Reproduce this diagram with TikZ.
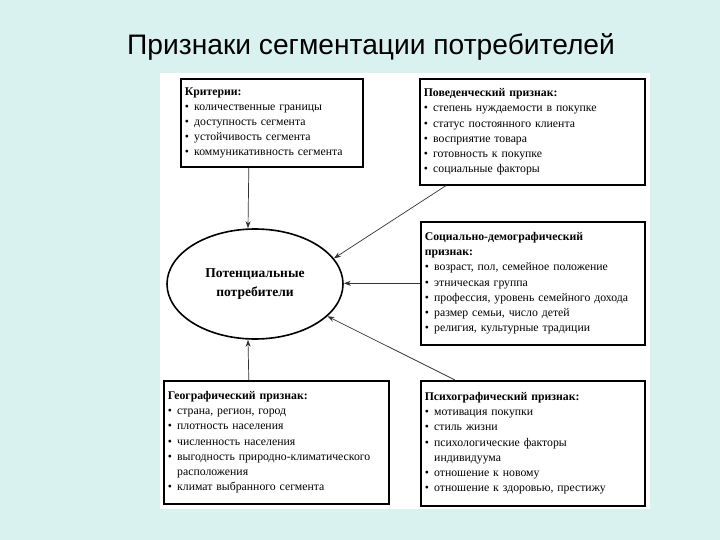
\documentclass[tikz,border=0pt]{standalone}
\usepackage{fontspec}
\setmainfont{Liberation Serif}
\newfontfamily\titlefont{Liberation Sans}
\usetikzlibrary{shapes.geometric, arrows.meta, positioning, calc}
\definecolor{mintbg}{RGB}{218, 242, 239}
\newcommand{\itm}{•\hspace{0.45em}}
\newcommand{\hangin}{\hphantom{•}\hspace{0.45em}}

\begin{document}
\begin{tikzpicture}[
    x=1bp, y=-1bp,
    box/.style={rectangle, draw=black, line width=1.6bp, fill=white, anchor=north west,
                inner xsep=4bp, align=left, font=\fontsize{11.8}{15.2}\selectfont},
    arrow/.style={-{Stealth[length=7bp, width=5bp]}, line width=0.7bp, black!80}
]
\fill[mintbg] (0,0) rectangle (720,540);
\useasboundingbox (0,0) rectangle (720,540);
\fill[white] (160,73) rectangle (650,509);

\node[font=\titlefont\fontsize{28.3}{32}\selectfont] (title) at (371,47) {Признаки сегментации потребителей};

\node[box, text width=174bp, minimum height=88bp] (crit) at (180,78) {\textbf{Критерии:}\\
\itm количественные границы\\
\itm доступность сегмента\\
\itm устойчивость сегмента\\
\itm коммуникативность сегмента};
\node[box, text width=217bp, minimum height=106bp] (behav) at (419,78) {\textbf{Поведенческий признак:}\\
\itm степень нуждаемости в покупке\\
\itm статус постоянного клиента\\
\itm восприятие товара\\
\itm готовность к покупке\\
\itm социальные факторы};
\node[box, text width=216bp, minimum height=123bp] (socio) at (420,221) {\textbf{Социально-демографический}\\
\textbf{признак:}\\
\itm возраст, пол, семейное положение\\
\itm этническая группа\\
\itm профессия, уровень семейного дохода\\
\itm размер семьи, число детей\\
\itm религия, культурные традиции};
\node[box, text width=217bp, minimum height=123bp] (geo) at (163,380) {\textbf{Географический признак:}\\
\itm страна, регион, город\\
\itm плотность населения\\
\itm численность населения\\
\itm выгодность природно-климатического\\
\hangin расположения\\
\itm климат выбранного сегмента};
\node[box, text width=216bp, minimum height=125bp] (psych) at (420,380) {\textbf{Психографический признак:}\\
\itm мотивация покупки\\
\itm стиль жизни\\
\itm психологические факторы\\
\hangin индивидуума\\
\itm отношение к новому\\
\itm отношение к здоровью, престижу};

\node[ellipse, draw, line width=1.6bp, minimum width=176bp, minimum height=110bp,
      align=center, font=\bfseries\fontsize{13.6}{19.5}\selectfont] (ell) at (255,284) {Потенциальные\\потребители};

\draw[arrow] ([xshift=-23bp]crit.south) -- ([xshift=-7bp]ell.north);
\draw[arrow] ([xshift=27bp]behav.south west) -- (ell.18);
\draw[arrow] (socio.west) -- (socio.west -| ell.east);
\draw[arrow] ([xshift=35bp]psych.north west) -- (ell.-24);
\draw[arrow] ([xshift=-27.5bp]geo.north) -- ([xshift=-7bp]ell.south);
\end{tikzpicture}
\end{document}
